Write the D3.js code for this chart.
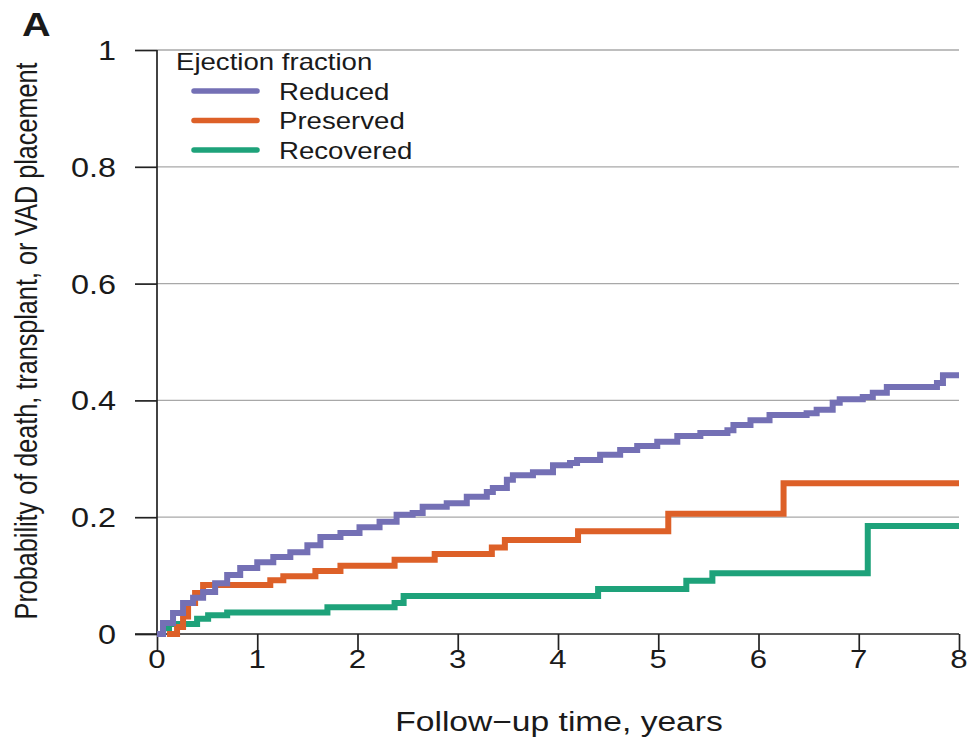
<!DOCTYPE html>
<html>
<head>
<meta charset="utf-8">
<script src="https://cdn.jsdelivr.net/npm/d3@7"></script>
<style>
  html, body { margin: 0; padding: 0; background: #fff; }
  svg { display: block; font-family: "Liberation Sans", Arial, Helvetica, sans-serif; }
</style>
</head>
<body>
<svg id="chart" width="970" height="739"></svg>
<script>
// ---- data ----
const seriesNames = ["Reduced", "Preserved", "Recovered"];
const seriesColors = ["#7470b5", "#dd6028", "#1ea27a"];

const reducedTimes  = [0, 0.06, 0.16, 0.26, 0.36, 0.46, 0.58, 0.70, 0.83, 1.00, 1.16, 1.33, 1.50, 1.63, 1.83, 2.02, 2.22, 2.39, 2.55, 2.65, 2.89, 3.09, 3.29, 3.35, 3.49, 3.55, 3.75, 3.95, 4.12, 4.19, 4.42, 4.62, 4.79, 4.99, 5.19, 5.42, 5.69, 5.75, 5.92, 6.11, 6.48, 6.58, 6.74, 6.81, 7.04, 7.14, 7.28, 7.78, 7.84, 8.0];
const reducedValues = [0, 0.019, 0.036, 0.053, 0.062, 0.072, 0.087, 0.101, 0.113, 0.123, 0.132, 0.140, 0.152, 0.166, 0.173, 0.183, 0.192, 0.204, 0.207, 0.218, 0.224, 0.235, 0.243, 0.250, 0.264, 0.272, 0.277, 0.289, 0.293, 0.298, 0.307, 0.315, 0.322, 0.329, 0.339, 0.344, 0.349, 0.358, 0.366, 0.375, 0.378, 0.384, 0.396, 0.402, 0.406, 0.413, 0.423, 0.430, 0.443, 0.443];

const preservedTimes  = [0.10, 0.20, 0.26, 0.31, 0.38, 0.46, 1.13, 1.26, 1.58, 1.83, 2.37, 2.77, 3.34, 3.47, 4.20, 5.10, 6.25, 8.0];
const preservedValues = [0, 0.012, 0.030, 0.053, 0.070, 0.084, 0.092, 0.099, 0.108, 0.117, 0.127, 0.137, 0.148, 0.161, 0.176, 0.206, 0.258, 0.258];

const recoveredTimes  = [0, 0.06, 0.12, 0.40, 0.51, 0.70, 1.70, 2.37, 2.46, 4.40, 5.28, 5.54, 7.09, 8.0];
const recoveredValues = [0, 0.010, 0.017, 0.026, 0.032, 0.037, 0.046, 0.053, 0.065, 0.077, 0.091, 0.104, 0.185, 0.185];

const xTicks = [0, 1, 2, 3, 4, 5, 6, 7, 8];
const yTicks = [0, 0.2, 0.4, 0.6, 0.8, 1];
const yTickLabels = ["0", "0.2", "0.4", "0.6", "0.8", "1"];
const xTitle = "Follow\u2212up time, years";
const yTitle = "Probability of death, transplant, or VAD placement";
const legendTitle = "Ejection fraction";
const panelLabel = "A";

// ---- layout ----
const SX = 1.2; // horizontal stretch of the original figure's text
const svg = d3.select("#chart");
const x = d3.scaleLinear().domain([0, 8]).range([157, 959]);
const y = d3.scaleLinear().domain([0, 1]).range([634, 50]);

function label(px, py, str, size, anchor, weight) {
  return svg.append("text")
    .attr("transform", `translate(${px},${py}) scale(${SX},1)`)
    .attr("text-anchor", anchor || "start")
    .attr("font-size", size)
    .attr("font-weight", weight || "normal")
    .attr("fill", "#1a1a1a")
    .text(str);
}

// gridlines
svg.append("g").selectAll("line").data(yTicks.filter(d => d > 0)).join("line")
  .attr("x1", x(0)).attr("x2", x(8))
  .attr("y1", d => y(d)).attr("y2", d => y(d))
  .attr("stroke", "#a8a8a8").attr("stroke-width", 1.3);

// y axis
const yAxis = svg.append("g").attr("transform", `translate(${x(0)},0)`)
  .call(d3.axisLeft(y).tickValues(yTicks).tickFormat("").tickSize(22));
yAxis.select(".domain").attr("stroke", "#222").attr("stroke-width", 1.7).attr("d", `M0,${y(1)}V${y(0)}`);
yAxis.selectAll(".tick line").attr("stroke", "#222").attr("stroke-width", 1.7);
yTicks.forEach((t, i) => label(116, y(t) + 10, yTickLabels[i], 27, "end"));

// x axis
const xAxis = svg.append("g").attr("transform", `translate(0,${y(0)})`)
  .call(d3.axisBottom(x).tickValues(xTicks).tickFormat("").tickSize(16));
xAxis.select(".domain").attr("stroke", "#222").attr("stroke-width", 1.7).attr("d", `M135,0H${x(8)}`);
xAxis.selectAll(".tick line").attr("stroke", "#222").attr("stroke-width", 1.7);
xTicks.forEach(t => label(x(t), 668, String(t), 26, "middle"));

// curves
const seriesData = [
  d3.zip(reducedTimes, reducedValues),
  d3.zip(preservedTimes, preservedValues),
  d3.zip(recoveredTimes, recoveredValues)
];
const line = d3.line().x(d => x(d[0])).y(d => y(d[1])).curve(d3.curveStepAfter);
[2, 1, 0].forEach(i => {
  svg.append("path").datum(seriesData[i])
    .attr("d", line)
    .attr("fill", "none")
    .attr("stroke", seriesColors[i])
    .attr("stroke-width", 6)
    .attr("stroke-linejoin", "miter");
});

// legend
label(176, 70, legendTitle, 23, "start");
seriesNames.forEach((n, i) => {
  const ly = 91 + i * 29.5;
  svg.append("line").attr("x1", 194).attr("x2", 257).attr("y1", ly).attr("y2", ly)
    .attr("stroke", seriesColors[i]).attr("stroke-width", 5.5).attr("stroke-linecap", "round");
  label(279, ly + 8.5, n, 23, "start");
});

// titles
label(559, 731, xTitle, 28, "middle");
svg.append("text").attr("transform", `translate(37,341) rotate(-90) scale(1,1.25)`)
  .attr("text-anchor", "middle").attr("font-size", 25.2).attr("fill", "#1a1a1a")
  .text(yTitle);
label(22, 36, panelLabel, 33, "start", "bold");
</script>
</body>
</html>
